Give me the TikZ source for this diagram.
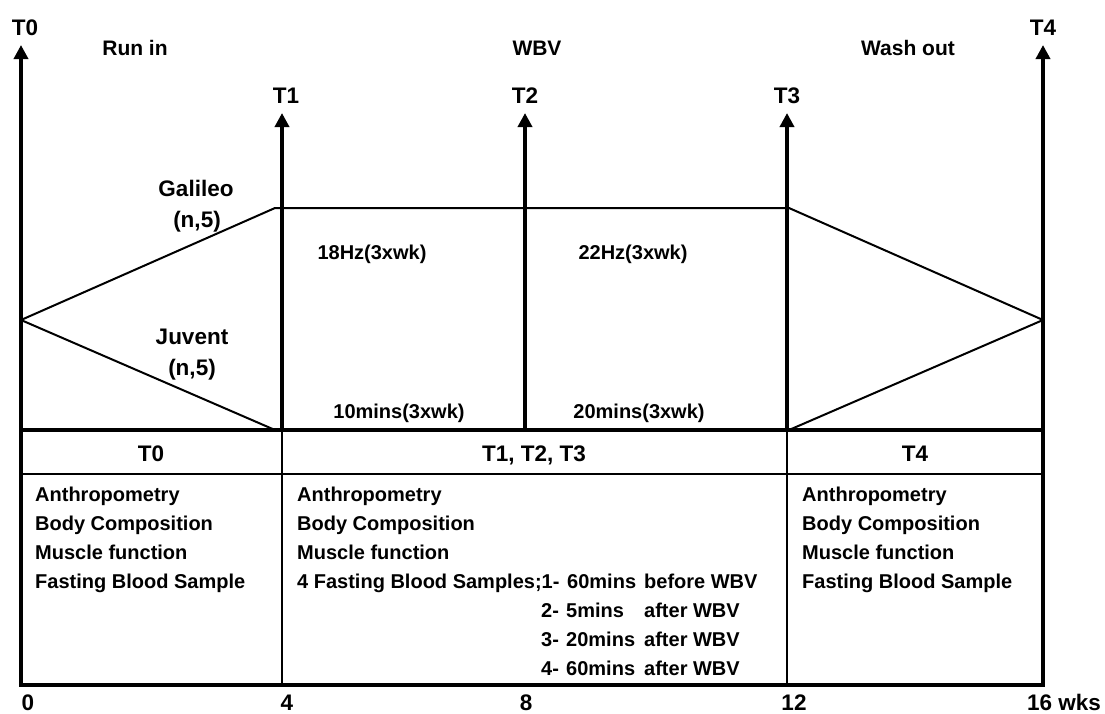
\documentclass[tikz,border=0pt]{standalone}
\usepackage{fontspec}
\setmainfont{Liberation Sans}
\usetikzlibrary{arrows.meta}
\begin{document}
\begin{tikzpicture}[x=1pt,y=-1pt,
  thickax/.style={line width=4pt,line cap=rect},
  thinln/.style={line width=2pt},
  arrowax/.style={line width=4pt,-{Triangle[width=14pt,length=14pt]}},
  big/.style={font=\fontsize{22.5}{27}\selectfont\bfseries, inner sep=0pt, anchor=base},
  mid/.style={font=\fontsize{21}{25}\selectfont\bfseries, inner sep=0pt, anchor=base},
  small/.style={font=\fontsize{20}{29}\selectfont\bfseries, inner sep=0pt, anchor=base},
  col/.style={small, anchor=base west},
]
\useasboundingbox (0,0) rectangle (1105,713);
% coordinates
\coordinate (bl) at (21,685);
\coordinate (br) at (1043,685);
\coordinate (tip0) at (21,45);
\coordinate (tip4) at (1043,45);
\coordinate (b1) at (282,430);
\coordinate (b2) at (525,430);
\coordinate (b3) at (787,430);
\coordinate (tip1) at (282,113);
\coordinate (tip2) at (525,113);
\coordinate (tip3) at (787,113);
\coordinate (hl) at (21,430);
\coordinate (hr) at (1043,430);
\coordinate (rl) at (21,474);
\coordinate (rr) at (1043,474);
\coordinate (s1) at (282,685);
\coordinate (s3) at (787,685);
\coordinate (apexL) at (21,320);
\coordinate (apexR) at (1043,320);
\coordinate (gL) at (275,208);
\coordinate (gR) at (789,208);
\coordinate (jL) at (275,430);
\coordinate (jR) at (789,430);

% frame and axes
\draw[thickax] (bl) -- (br);
\draw[thickax] (hl) -- (hr);
\draw[arrowax] (bl) -- (tip0);
\draw[arrowax] (br) -- (tip4);
\draw[arrowax] (b1) -- (tip1);
\draw[arrowax] (b2) -- (tip2);
\draw[arrowax] (b3) -- (tip3);
\draw[thinln] (rl) -- (rr);
\draw[thinln] (b1) -- (s1);
\draw[thinln] (b3) -- (s3);
% groups
\draw[thinln, line join=miter] (apexL) -- (gL) -- (gR) -- (apexR);
\draw[thinln] (apexL) -- (jL);
\draw[thinln] (jR) -- (apexR);

% top labels
\node[big] (lT0) at (25,35) {T0};
\node[big] (lT4) at (1043,35) {T4};
\node[big] (lT1) at (286,103) {T1};
\node[big] (lT2) at (525,103) {T2};
\node[big] (lT3) at (787,103) {T3};
\node[mid] (runin) at (135,55) {Run in};
\node[mid] (wbv) at (537,55) {WBV};
\node[mid] (wash) at (908,55) {Wash out};

% group labels
\node[big] (gal) at (196,196) {Galileo};
\node[big] (galn) at (197,227) {(n,5)};
\node[big] (juv) at (192,344) {Juvent};
\node[big] (juvn) at (192,375) {(n,5)};
\node[small] (hz18) at (372,259) {18Hz(3xwk)};
\node[small] (hz22) at (633,259) {22Hz(3xwk)};
\node[small] (m10) at (399,418) {10mins(3xwk)};
\node[small] (m20) at (639,418) {20mins(3xwk)};

% table headers
\node[big] (h0) at (151,461) {T0};
\node[big] (h123) at (534,461) {T1, T2, T3};
\node[big] (h4) at (915,461) {T4};

% table body: T0 column
\node[col] (a0) at (35,501) {Anthropometry};
\node[col] (b0) at (35,530) {Body Composition};
\node[col] (m0) at (35,559) {Muscle function};
\node[col] (f0) at (35,588) {Fasting Blood Sample};
% T1-T3 column
\node[col] (a1) at (297,501) {Anthropometry};
\node[col] (bb1) at (297,530) {Body Composition};
\node[col] (m1) at (297,559) {Muscle function};
\node[col] (f1) at (297,588) {4 Fasting Blood Samples;1-};
\node[col] (s1a) at (567,588) {60mins};
\node[col] (s1b) at (644,588) {before WBV};
\node[col] (s2n) at (541,617) {2-};
\node[col] (s2a) at (566,617) {5mins};
\node[col] (s2b) at (644,617) {after WBV};
\node[col] (s3n) at (541,646) {3-};
\node[col] (s3a) at (566,646) {20mins};
\node[col] (s3b) at (644,646) {after WBV};
\node[col] (s4n) at (541,675) {4-};
\node[col] (s4a) at (566,675) {60mins};
\node[col] (s4b) at (644,675) {after WBV};
% T4 column
\node[col] (a4) at (802,501) {Anthropometry};
\node[col] (b4) at (802,530) {Body Composition};
\node[col] (m4) at (802,559) {Muscle function};
\node[col] (f4) at (802,588) {Fasting Blood Sample};

% bottom scale
\node[big] (x0) at (28,710) {0};
\node[big] (x4) at (287,710) {4};
\node[big] (x8) at (526,710) {8};
\node[big] (x12) at (794,710) {12};
\node[big, anchor=base west] (x16) at (1027,710) {16 wks};
\end{tikzpicture}
\end{document}
